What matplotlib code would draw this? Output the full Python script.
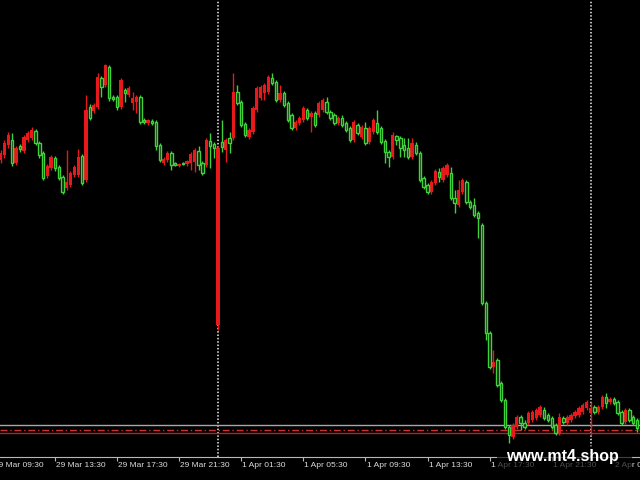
import numpy as np
from matplotlib import pyplot as plt
import matplotlib.transforms as mtransforms
from matplotlib.patches import Rectangle

# M15 bars, index 0 = 29 Mar 09:30 (first visible bar is index 2)
first_bar = 2

opens = [297, 302, 312, 317, 294, 311, 306, 317, 319, 326,
         314, 304, 281, 289, 299, 290, 280, 269, 272, 282,
         282, 301, 277, 350, 346, 350, 379, 372, 390, 360,
         360, 350, 367, 362, 354, 355, 360, 337, 334, 336,
         335, 312, 294, 297, 304, 294, 291, 294, 293, 294,
         295, 306, 294, 292, 316, 313, 132, 315, 307, 319,
         319, 365, 355, 333, 320, 325, 347, 359, 364, 365,
         379, 375, 357, 364, 354, 342, 329, 334, 337, 347,
         340, 344, 342, 347, 355, 345, 342, 334, 339, 334,
         329, 317, 332, 320, 329, 315, 325, 334, 329, 316,
         305, 300, 321, 319, 312, 309, 300, 312, 304, 279,
         272, 265, 274, 285, 277, 282, 284, 259, 252, 265,
         275, 255, 252, 244, 232, 154, 124, 90, 97, 74,
         57, 30, 20, 30, 40, 34, 34, 37, 39, 42,
         47, 42, 39, 32, 24, 39, 34, 37, 41, 42,
         45, 49, 44, 50, 45, 50, 60, 55, 58, 55,
         45, 35, 47, 40, 37, 39]

highs = [307, 317, 325, 324, 311, 313, 322, 326, 330, 328,
         316, 306, 293, 302, 301, 292, 282, 307, 286, 292,
         308, 303, 362, 353, 354, 384, 381, 393, 392, 362,
         362, 379, 369, 371, 365, 362, 362, 339, 338, 338,
         337, 314, 300, 306, 306, 295, 294, 295, 297, 305,
         309, 311, 296, 319, 324, 315, 311, 337, 319, 325,
         384, 372, 357, 335, 329, 351, 371, 372, 374, 382,
         384, 377, 372, 366, 356, 344, 337, 341, 351, 349,
         346, 346, 356, 359, 360, 347, 344, 341, 342, 336,
         331, 337, 334, 332, 335, 331, 339, 347, 331, 318,
         307, 325, 322, 321, 319, 319, 319, 315, 306, 281,
         274, 277, 288, 289, 291, 294, 290, 267, 277, 279,
         277, 257, 259, 246, 234, 156, 126, 107, 99, 76,
         59, 32, 34, 42, 42, 37, 46, 47, 49, 52,
         50, 44, 41, 34, 44, 41, 42, 44, 47, 51,
         54, 57, 55, 52, 52, 62, 64, 60, 60, 57,
         47, 49, 49, 42, 39, 41]

lows = [294, 299, 309, 291, 292, 305, 304, 315, 317, 312,
        299, 277, 279, 287, 286, 277, 263, 267, 270, 280,
        280, 272, 275, 337, 344, 348, 360, 370, 356, 356,
        347, 348, 355, 360, 347, 344, 333, 333, 332, 332,
        307, 295, 292, 295, 287, 291, 290, 292, 291, 287,
        285, 287, 282, 290, 289, 299, 127, 305, 295, 304,
        317, 352, 330, 320, 318, 323, 345, 357, 357, 363,
        372, 355, 355, 350, 335, 327, 327, 332, 335, 337,
        325, 330, 340, 345, 343, 337, 332, 332, 330, 325,
        315, 315, 322, 318, 312, 313, 323, 323, 313, 294,
        290, 298, 312, 300, 300, 298, 298, 302, 275, 268,
        263, 263, 272, 275, 275, 280, 257, 244, 250, 263,
        253, 248, 240, 219, 152, 117, 88, 84, 70, 55,
        28, 14, 18, 28, 27, 28, 32, 35, 37, 40,
        37, 35, 28, 22, 22, 33, 32, 35, 39, 40,
        43, 47, 22, 43, 43, 48, 49, 53, 52, 42,
        32, 33, 35, 32, 25, 30]

closes = [304, 314, 322, 294, 309, 308, 320, 324, 327, 314,
          302, 279, 291, 300, 289, 279, 265, 275, 284, 290,
          300, 274, 347, 339, 352, 380, 370, 392, 359, 358,
          350, 377, 364, 369, 359, 360, 335, 335, 337, 334,
          311, 297, 298, 304, 292, 292, 293, 293, 296, 303,
          307, 292, 284, 317, 311, 309, 309, 310, 317, 314,
          365, 354, 332, 322, 327, 349, 369, 370, 372, 380,
          374, 357, 364, 352, 337, 329, 335, 339, 349, 339,
          344, 332, 354, 357, 345, 339, 334, 339, 332, 327,
          317, 335, 324, 330, 314, 329, 337, 325, 315, 305,
          300, 322, 317, 309, 307, 300, 314, 304, 277, 270,
          265, 275, 286, 280, 289, 292, 259, 254, 267, 277,
          255, 250, 242, 239, 154, 124, 90, 95, 72, 57,
          30, 22, 32, 40, 34, 30, 44, 45, 47, 50,
          39, 37, 30, 24, 40, 35, 40, 42, 45, 49,
          52, 55, 49, 45, 50, 60, 54, 58, 54, 44,
          34, 47, 37, 34, 29, 32]

tick_bars = [0, 16, 32, 48, 64, 80, 96, 112, 128, 144, 160]
tick_labels = ['29 Mar 09:30', '29 Mar 13:30', '29 Mar 17:30', '29 Mar 21:30',
               '1 Apr 01:30', '1 Apr 05:30', '1 Apr 09:30', '1 Apr 13:30',
               '1 Apr 17:30', '1 Apr 21:30', '2 Apr 01:30']
day_starts = [58, 154]

bid_level = 32
level_dashdot = 27
level_solid = 24

bull_color = '#e8191b'
bear_color = '#3fd23a'

o = np.array(opens)
h = np.array(highs)
l = np.array(lows)
c = np.array(closes)
bars = np.arange(first_bar, first_bar + len(o))
up = c > o

fig = plt.figure(figsize=(6.4, 4.8), dpi=100, facecolor='black')
ax = fig.add_axes([0, 23 / 480, 1, 457 / 480])
ax.set_facecolor('black')
ax.set_xlim(1.85, 166.75)
ax.set_ylim(0, 457)

# period separators
for d in day_starts:
    ax.axvline(d, color='#eeeeee', lw=1.1, ls=(0, (1, 1.2)), zorder=1)

ax.axhline(bid_level, color='#a8a8a8', lw=1, zorder=1)
ax.axhline(level_dashdot, color='#c83232', lw=1, ls=(0, (5, 2, 1, 2)), zorder=1)
ax.axhline(level_solid, color='#b82222', lw=1, zorder=1)

# wicks then bodies
ax.vlines(bars[up], l[up], h[up], color=bull_color, lw=1.0, zorder=2)
ax.vlines(bars[~up], l[~up], h[~up], color=bear_color, lw=1.0, zorder=2)
ax.bar(bars[up], np.maximum(c - o, 1.0)[up], bottom=o[up], width=0.85,
       color=bull_color, linewidth=0, zorder=3)
ax.bar(bars[~up], np.maximum(o - c, 1.0)[~up], bottom=c[~up], width=0.62,
       facecolor='#0a1a0a', edgecolor=bear_color, linewidth=1.0, zorder=3)

for s in ['top', 'left', 'right']:
    ax.spines[s].set_visible(False)
ax.spines['bottom'].set_color('#b8b8b8')
ax.spines['bottom'].set_linewidth(0.8)
ax.set_yticks([])
ax.set_xticks([b for b in tick_bars if b > 1.85])
ax.tick_params(axis='x', length=3, width=0.8, color='#b8b8b8', labelbottom=False)

trans = mtransforms.blended_transform_factory(ax.transData, ax.transAxes)
for b, lab in zip(tick_bars, tick_labels):
    ax.text(b + 0.3, -0.011, lab, transform=trans, ha='left', va='top',
            fontsize=6.0, color='#dcdcdc', family='Liberation Sans', clip_on=False)

# watermark
fig.patches.append(Rectangle((497 / 640, 0), 135 / 640, 34 / 480, transform=fig.transFigure,
                             facecolor='black', edgecolor='none', alpha=0.65, zorder=5))
fig.text(562 / 640, 24 / 480, 'www.mt4.shop', color='white', fontsize=11.5,
         fontweight='bold', ha='center', va='center', family='Liberation Sans', zorder=6)

fig.savefig('out.png', dpi=100, facecolor='black')
